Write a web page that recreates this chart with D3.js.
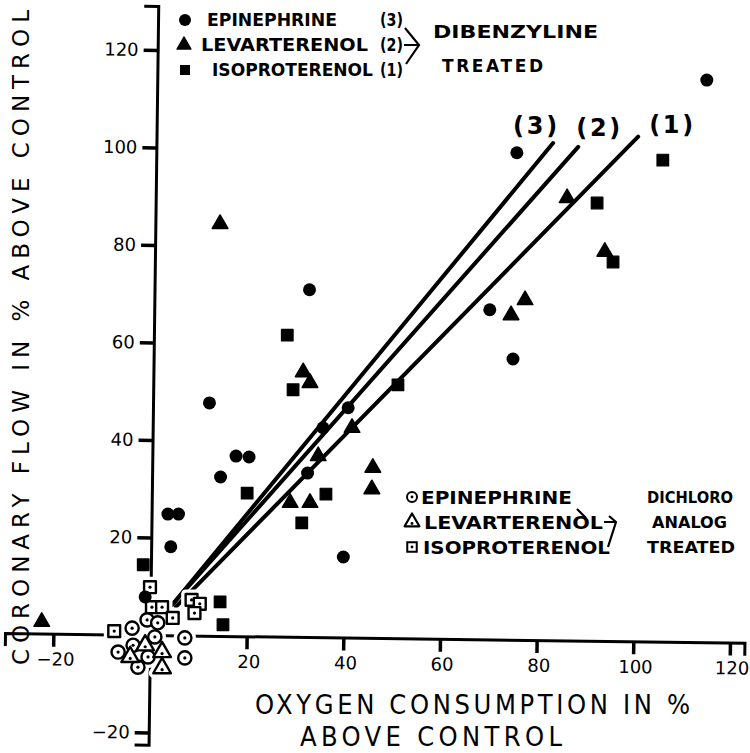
<!DOCTYPE html>
<html>
<head>
<meta charset="utf-8">
<script src="https://cdn.jsdelivr.net/npm/d3@7"></script>
<style>
  body { margin: 0; background: #fff; }
  svg { display: block; }
</style>
</head>
<body>
<svg id="chart" width="750" height="753"></svg>
<script>
// ---- Data: [oxygen consumption % above control, coronary flow % above control] ----

// Dibenzyline treated (filled markers)
const epinephrineDib = [
  [115.2, 113.8], [75.9, 98.9], [70.3, 66.7], [75.1, 56.6], [33.0, 70.8],
  [12.3, 47.6], [17.8, 36.7], [20.5, 36.5], [14.6, 32.4], [3.7, 24.8],
  [5.9, 24.8], [4.3, 18.1], [40.0, 16.0], [41.0, 46.6], [35.8, 42.5],
  [32.6, 33.2], [-1.0, 7.8]
];
const levarterenolDib = [
  [14.5, 84.3], [-22.4, 2.7], [86.3, 89.6], [94.1, 78.6], [77.6, 68.7],
  [74.7, 65.6], [31.7, 53.9], [33.1, 51.7], [34.8, 36.7], [41.8, 42.5],
  [29.0, 27.1], [33.1, 27.1], [46.1, 34.3], [45.9, 29.9]
];
const isoproterenolDib = [
  [106.1, 97.4], [92.5, 88.6], [95.8, 76.5], [51.3, 51.3], [28.4, 61.5],
  [29.6, 50.3], [20.1, 29.1], [36.4, 28.9], [31.4, 23.0], [14.5, 6.8],
  [15.1, 2.1], [-1.4, 14.4]
];

// Dichloro analog treated (open markers)
const epinephrineDcl = [
  [-0.6, 3.1], [1.6, 2.5], [-3.7, 1.4], [1.0, -0.4], [-3.5, -2.1],
  [7.2, -0.6], [-6.6, -3.5], [-0.4, -4.5], [-2.5, -6.6], [7.2, -4.7]
];
const levarterenolDcl = [
  [-1.0, -2.1], [-4.1, -4.5], [2.5, -3.5], [2.5, -6.8]
];
const isoproterenolDcl = [
  [0.0, 9.8], [0.4, 5.7], [2.5, 5.7], [4.7, 3.5], [-7.4, 0.8],
  [8.6, 7.2], [10.3, 6.4], [9.2, 4.5]
];

// Fitted lines for the Dibenzyline groups: (3) epinephrine, (2) levarterenol, (1) isoproterenol
const fitLabels = ["(3)", "(2)", "(1)"];
const fitStart  = [[4.6, 6.2], [4.6, 6.2], [5.4, 5.8]];
const fitEnd    = [[83.4, 100.9], [88.6, 100.1], [101.0, 102.2]];

const xTicks = [-20, 20, 40, 60, 80, 100, 120];
const yTicks = [-20, 20, 40, 60, 80, 100, 120];

// ---- Scales ----
const svg = d3.select("#chart");
const X = d3.scaleLinear().domain([-30, 123]).range([5, 744.5]);
const Y = d3.scaleLinear().domain([-22.5, 129]).range([744.7, 6]);
const tilt = `rotate(0.75,${X(0)},${Y(0)})`;

const geo = "'DejaVu Sans', Verdana, sans-serif";
const narrow = "'Liberation Sans Narrow', 'DejaVu Sans Condensed', 'Arial Narrow', sans-serif";

// ---- Axes ----
const gx = svg.append("g")
  .attr("transform", `${tilt} translate(0,${Y(0)})`)
  .call(d3.axisBottom(X).tickValues(xTicks).tickSizeOuter(0).tickSize(13).tickPadding(6)
    .tickFormat(d3.format("d")));
const gy = svg.append("g")
  .attr("transform", `${tilt} translate(${X(0)},0)`)
  .call(d3.axisLeft(Y).tickValues(yTicks).tickSizeOuter(0).tickSize(14).tickPadding(5)
    .tickFormat(d3.format("d")));

[gx, gy].forEach(g => {
  g.select(".domain").attr("stroke", "#000").attr("stroke-width", 3);
  g.selectAll(".tick line").attr("stroke", "#000").attr("stroke-width", 3.5);
  g.selectAll(".tick text")
    .attr("fill", "#000")
    .style("font-family", geo)
    .style("font-size", "18px");
});
gx.selectAll(".tick text").attr("dx", "2px");

// ---- Fitted lines ----
const lineGen = d3.line().x(d => X(d[0])).y(d => Y(d[1]));
svg.append("g").selectAll("path")
  .data(fitLabels.map((l, i) => [fitStart[i], fitEnd[i]]))
  .join("path")
  .attr("d", lineGen)
  .attr("fill", "none")
  .attr("stroke", "#000")
  .attr("stroke-width", 4)
  .attr("stroke-linecap", "round");

// line labels near the upper ends (pixel offsets from each end)
const labelOffset = [[-18, -17], [20, -19], [33, -12]];
svg.append("g").selectAll("text")
  .data(fitLabels)
  .join("text")
  .attr("x", (d, i) => X(fitEnd[i][0]) + labelOffset[i][0])
  .attr("y", (d, i) => Y(fitEnd[i][1]) + labelOffset[i][1])
  .attr("text-anchor", "middle")
  .attr("dominant-baseline", "central")
  .attr("textLength", 44)
  .attr("lengthAdjust", "spacing")
  .style("font-family", geo)
  .style("font-weight", "bold")
  .style("font-size", "24px")
  .text(d => d);

// ---- Markers ----
const triPath = s => d3.symbol().type(d3.symbolTriangle).size(s)();
const sqPath = s => d3.symbol().type(d3.symbolSquare).size(s)();

function openShape(sel, kind) {
  if (kind === "circle") return sel.append("circle").attr("r", 6.6);
  return sel.append("path").attr("d", kind === "tri" ? triPath(135) : sqPath(140));
}

// white halo beneath the open (dichloro) markers so they clear the axes
function openHalo(data, kind) {
  svg.append("g").selectAll("g").data(data).join("g")
    .attr("transform", d => `translate(${X(d[0])},${Y(d[1])})`)
    .each(function () {
      openShape(d3.select(this), kind)
        .attr("fill", "#fff").attr("stroke", "#fff")
        .attr("stroke-width", 9).attr("stroke-linejoin", "round");
    });
}
function openMarkers(data, kind) {
  svg.append("g").selectAll("g").data(data).join("g")
    .attr("transform", d => `translate(${X(d[0])},${Y(d[1])})`)
    .each(function () {
      const s = d3.select(this);
      openShape(s, kind).attr("fill", "#fff").attr("stroke", "#000")
        .attr("stroke-width", 2.4).attr("stroke-linejoin", "round");
      s.append("circle").attr("r", 1.6).attr("cy", kind === "tri" ? 1.5 : 0).attr("fill", "#000");
    });
}

openHalo(epinephrineDcl, "circle");
openHalo(levarterenolDcl, "tri");
openHalo(isoproterenolDcl, "sq");
openMarkers(isoproterenolDcl, "sq");
openMarkers(epinephrineDcl, "circle");
openMarkers(levarterenolDcl, "tri");

// filled (Dibenzyline) markers
svg.append("g").selectAll("circle").data(epinephrineDib).join("circle")
  .attr("cx", d => X(d[0])).attr("cy", d => Y(d[1])).attr("r", 6.5).attr("fill", "#000");
svg.append("g").selectAll("path").data(levarterenolDib).join("path")
  .attr("transform", d => `translate(${X(d[0])},${Y(d[1])})`)
  .attr("d", triPath(105)).attr("fill", "#000")
  .attr("stroke", "#000").attr("stroke-width", 1.5).attr("stroke-linejoin", "round");
svg.append("g").selectAll("path").data(isoproterenolDib).join("path")
  .attr("transform", d => `translate(${X(d[0])},${Y(d[1])})`)
  .attr("d", sqPath(135)).attr("fill", "#000")
  .attr("stroke", "#000").attr("stroke-width", 1.2).attr("stroke-linejoin", "round");

// ---- Axis titles ----
svg.append("text")
  .attr("transform", "translate(21,665) rotate(-90)")
  .attr("dominant-baseline", "central")
  .attr("textLength", 655)
  .attr("lengthAdjust", "spacing")
  .style("font-family", geo)
  .style("font-size", "23px")
  .text("CORONARY FLOW IN % ABOVE CONTROL");

svg.append("text")
  .attr("x", 255).attr("y", 714)
  .attr("textLength", 435)
  .attr("lengthAdjust", "spacing")
  .style("font-family", narrow)
  .style("font-size", "27px")
  .text("OXYGEN CONSUMPTION IN %");
svg.append("text")
  .attr("x", 300).attr("y", 746)
  .attr("textLength", 262)
  .attr("lengthAdjust", "spacing")
  .style("font-family", narrow)
  .style("font-size", "27px")
  .text("ABOVE CONTROL");

// ---- Legend: Dibenzyline treated ----
const legTop = svg.append("g");
const dibNames = ["EPINEPHRINE", "LEVARTERENOL", "ISOPROTERENOL"];
const dibRows = [20, 45, 70];
const dibTextX = [207, 201, 212];
const dibTextW = [130, 167, 161];
legTop.append("circle").attr("cx", 185).attr("cy", dibRows[0]).attr("r", 6);
legTop.append("path").attr("transform", `translate(184,${dibRows[1]})`).attr("d", triPath(85))
  .attr("stroke", "#000").attr("stroke-width", 1.2).attr("stroke-linejoin", "round");
legTop.append("path").attr("transform", `translate(185,${dibRows[2]})`).attr("d", sqPath(100));
dibNames.forEach((n, i) => {
  legTop.append("text").attr("x", dibTextX[i]).attr("y", dibRows[i])
    .attr("dominant-baseline", "central")
    .attr("textLength", dibTextW[i]).attr("lengthAdjust", "spacingAndGlyphs")
    .style("font-family", geo).style("font-weight", "bold").style("font-size", "17px")
    .text(n);
  legTop.append("text").attr("x", 380).attr("y", dibRows[i])
    .attr("dominant-baseline", "central")
    .attr("textLength", 23).attr("lengthAdjust", "spacingAndGlyphs")
    .style("font-family", geo).style("font-weight", "bold").style("font-size", "17px")
    .text(fitLabels[i]);
});
legTop.append("path")
  .attr("d", `M405,${dibRows[0] + 8} L419,${dibRows[1]} L406,${dibRows[2] - 6} M404,${dibRows[1]} L419,${dibRows[1]}`)
  .attr("fill", "none").attr("stroke", "#000").attr("stroke-width", 2.2);
legTop.append("text").attr("x", 433).attr("y", 32).attr("dominant-baseline", "central")
  .attr("textLength", 165).attr("lengthAdjust", "spacingAndGlyphs")
  .style("font-family", geo).style("font-weight", "bold").style("font-size", "17px")
  .text("DIBENZYLINE");
legTop.append("text").attr("x", 442).attr("y", 66).attr("dominant-baseline", "central")
  .attr("textLength", 101).attr("lengthAdjust", "spacing")
  .style("font-family", geo).style("font-weight", "bold").style("font-size", "17px")
  .text("TREATED");

// ---- Legend: dichloro analog treated ----
const legLow = svg.append("g");
const dclRows = [497, 522, 547];
const dclTextX = [421, 424, 423];
const dclTextW = [151, 179, 187];
const o1 = legLow.append("g").attr("transform", `translate(412,${dclRows[0]})`);
o1.append("circle").attr("r", 5).attr("fill", "#fff").attr("stroke", "#000").attr("stroke-width", 2);
o1.append("circle").attr("r", 1.4);
const o2 = legLow.append("g").attr("transform", `translate(412,${dclRows[1]})`);
o2.append("path").attr("d", triPath(95)).attr("fill", "#fff").attr("stroke", "#000")
  .attr("stroke-width", 2.2).attr("stroke-linejoin", "round");
o2.append("circle").attr("r", 1.4).attr("cy", 1.5);
const o3 = legLow.append("g").attr("transform", `translate(412,${dclRows[2]})`);
o3.append("path").attr("d", sqPath(90)).attr("fill", "#fff").attr("stroke", "#000").attr("stroke-width", 2);
o3.append("circle").attr("r", 1.4);
dibNames.forEach((n, i) => {
  legLow.append("text").attr("x", dclTextX[i]).attr("y", dclRows[i])
    .attr("dominant-baseline", "central")
    .attr("textLength", dclTextW[i]).attr("lengthAdjust", "spacingAndGlyphs")
    .style("font-family", geo).style("font-weight", "bold").style("font-size", "18px")
    .text(n);
});
legLow.append("path")
  .attr("d", "M577,509 L586,518 M604,522 L616,522 M609,516 L616,522 L608,547")
  .attr("fill", "none").attr("stroke", "#000").attr("stroke-width", 2.2).attr("stroke-linejoin", "round");
const dclRight = ["DICHLORO", "ANALOG", "TREATED"];
const dclRightX = [647, 652, 647];
const dclRightW = [86, 75, 88];
dclRight.forEach((n, i) => {
  legLow.append("text").attr("x", dclRightX[i]).attr("y", dclRows[i])
    .attr("dominant-baseline", "central")
    .attr("textLength", dclRightW[i]).attr("lengthAdjust", "spacingAndGlyphs")
    .style("font-family", geo).style("font-weight", "bold").style("font-size", "16px")
    .text(n);
});
</script>
</body>
</html>
